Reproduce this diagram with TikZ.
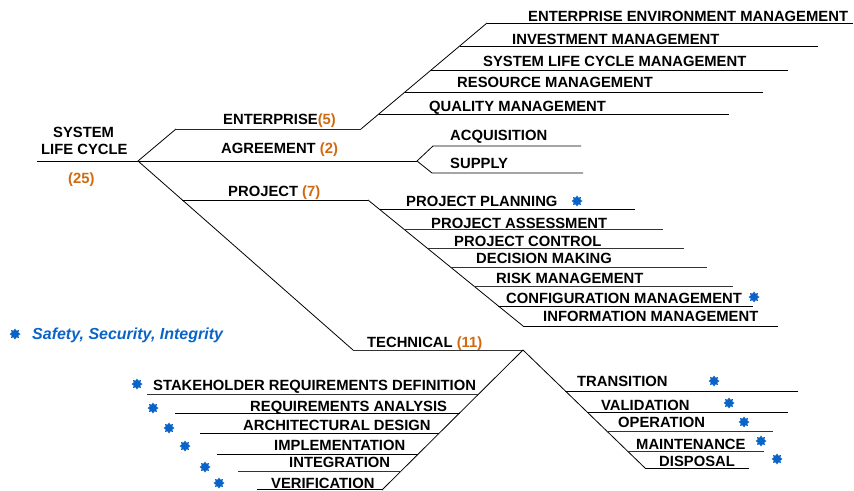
\documentclass[tikz,border=0pt]{standalone}
\usepackage{fontspec}
\setmainfont{Liberation Sans}
\usetikzlibrary{shapes.geometric}
\definecolor{numor}{HTML}{D06A10}
\definecolor{starblue}{HTML}{0A64C8}
\definecolor{navy}{HTML}{1A1A80}
\tikzset{
  ln/.style={line width=0.8pt, black},
  gln/.style={line width=0.8pt, black!80},
  lab/.style={anchor=base west, inner sep=0pt, font=\fontsize{14.8}{17}\selectfont\bfseries},
  astar/.style={star, star points=8, star point ratio=1.5, fill=starblue, draw=none, inner sep=0pt, minimum size=11pt},
}
\begin{document}
\begin{tikzpicture}[x=1pt,y=-1pt]
\useasboundingbox (0,0) rectangle (854,490);
% ---------- root ----------
\coordinate (L0) at (37,161);
\coordinate (V) at (138,161);
\node[lab] (sys1) at (53,137) {SYSTEM};
\node[lab] (sys2) at (41,154) {LIFE CYCLE};
\node[lab, text=numor] (sys3) at (68,183) {(25)};
\draw[ln] (L0) -- (V);
% ---------- enterprise ----------
\coordinate (E1) at (176,129);
\coordinate (E2) at (361,129);
\coordinate (ET) at (487,23);
\draw[ln] (V) -- (E1);
\draw[line width=0.8pt, navy] (E1) -- (E2);
\draw[ln] (E2) -- (ET);
\node[lab] (ent) at (223,124) {ENTERPRISE\textcolor{numor}{(5)}};
\coordinate (q0) at (378.8,114); \coordinate (q1) at (729,114);
\coordinate (r0) at (405.0,92);  \coordinate (r1) at (763,92);
\coordinate (s0) at (431.1,70);  \coordinate (s1) at (788,70);
\coordinate (i0) at (459.7,46);  \coordinate (i1) at (818,46);
\coordinate (e1) at (853,23);
\draw[ln] (q0) -- (q1);
\draw[ln] (r0) -- (r1);
\draw[ln] (s0) -- (s1);
\draw[ln] (i0) -- (i1);
\draw[ln] (ET) -- (e1);
\node[lab] (eem) at (528,21) {ENTERPRISE ENVIRONMENT MANAGEMENT};
\node[lab] (inv) at (512,44) {INVESTMENT MANAGEMENT};
\node[lab] (slcm) at (483,66) {SYSTEM LIFE CYCLE MANAGEMENT};
\node[lab] (res) at (457,87) {RESOURCE MANAGEMENT};
\node[lab] (qual) at (429,111) {QUALITY MANAGEMENT};
% ---------- agreement ----------
\coordinate (A1) at (417,161);
\coordinate (ac0) at (433,146); \coordinate (ac1) at (581,146);
\coordinate (su0) at (432,173); \coordinate (su1) at (583,173);
\draw[ln] (V) -- (A1);
\draw[ln] (A1) -- (ac0) -- (ac1);
\draw[ln] (A1) -- (su0) -- (su1);
\node[lab] (agr) at (221,153) {AGREEMENT \textcolor{numor}{(2)}};
\node[lab] (acq) at (450,140) {ACQUISITION};
\node[lab] (sup) at (450,168) {SUPPLY};
% ---------- project ----------
\coordinate (T0) at (353,350);
\coordinate (P0) at (182.4,200);
\coordinate (P1) at (368,200);
\coordinate (PE) at (523,326);
\draw[ln] (V) -- (T0);
\draw[ln] (P0) -- (P1);
\draw[ln] (P1) -- (PE);
\node[lab] (proj) at (228,196.5) {PROJECT \textcolor{numor}{(7)}};
\coordinate (pp0) at (379.7,209.5); \coordinate (pp1) at (635,209.5);
\coordinate (pa0) at (404.3,229.5); \coordinate (pa1) at (663,229.5);
\coordinate (pc0) at (427.6,248.5); \coordinate (pc1) at (684,248.5);
\coordinate (dm0) at (450.7,267.5); \coordinate (dm1) at (707,267.5);
\coordinate (rm0) at (474.1,286.5); \coordinate (rm1) at (733,286.5);
\coordinate (cm0) at (498.4,306);   \coordinate (cm1) at (753,306);
\coordinate (im1) at (778,326);
\draw[ln] (pp0) -- (pp1);
\draw[gln] (pa0) -- (pa1);
\draw[gln] (pc0) -- (pc1);
\draw[gln] (dm0) -- (dm1);
\draw[gln] (rm0) -- (rm1);
\draw[ln] (cm0) -- (cm1);
\draw[ln] (PE) -- (im1);
\node[lab] (ppl) at (406,206) {PROJECT PLANNING};
\node[lab] (pas) at (431,228.7) {PROJECT ASSESSMENT};
\node[lab] (pco) at (454,246) {PROJECT CONTROL};
\node[lab] (dma) at (476,263) {DECISION MAKING};
\node[lab] (rma) at (496,283) {RISK MANAGEMENT};
\node[lab] (cma) at (506,303) {CONFIGURATION MANAGEMENT};
\node[lab] (ima) at (543,321) {INFORMATION MANAGEMENT};
\node[astar] (st1) at (577,201) {};
\node[astar] (st2) at (754,297) {};
% ---------- technical ----------
\coordinate (T1) at (523,350);
\coordinate (TL) at (382,490);
\coordinate (TR) at (645,468);
\draw[gln] (T0) -- (T1);
\draw[ln] (T1) -- (TL);
\draw[ln] (T1) -- (TR);
\node[lab] (tec) at (367,347.7) {TECHNICAL \textcolor{numor}{(11)}};
% left
\coordinate (srd0) at (147,394);   \coordinate (srd1) at (478.7,394);
\coordinate (ra0) at (175,413);    \coordinate (ra1) at (459.5,413);
\coordinate (ad0) at (200,433.5);  \coordinate (ad1) at (438.9,433.5);
\coordinate (imp0) at (217,454);   \coordinate (imp1) at (418.3,454);
\coordinate (int0) at (238,471);   \coordinate (int1) at (401.1,471);
\coordinate (ver0) at (257,489.2); \coordinate (ver1) at (382.8,489.2);
\draw[gln] (srd0) -- (srd1);
\draw[ln] (ra0) -- (ra1);
\draw[ln] (ad0) -- (ad1);
\draw[ln] (imp0) -- (imp1);
\draw[gln] (int0) -- (int1);
\draw[ln] (ver0) -- (ver1);
\node[lab] (srd) at (153,390.7) {STAKEHOLDER REQUIREMENTS DEFINITION};
\node[lab] (ra) at (250,411.7) {REQUIREMENTS ANALYSIS};
\node[lab] (ad) at (243,430.7) {ARCHITECTURAL DESIGN};
\node[lab] (imp) at (274,450) {IMPLEMENTATION};
\node[lab] (int) at (289,467.7) {INTEGRATION};
\node[lab] (ver) at (271,488) {VERIFICATION};
\node[astar] (st3) at (137,384) {};
\node[astar] (st4) at (153,408) {};
\node[astar] (st5) at (169,428) {};
\node[astar] (st6) at (185,446) {};
\node[astar] (st7) at (205,467) {};
\node[astar] (st8) at (219,483) {};
% right
\coordinate (tr0) at (565.4,391); \coordinate (tr1) at (798,391);
\coordinate (va0) at (587.1,412); \coordinate (va1) at (788,412);
\coordinate (op0) at (606.7,431); \coordinate (op1) at (773,431);
\coordinate (ma0) at (627.4,451); \coordinate (ma1) at (764,451);
\coordinate (di1) at (749,468);
\draw[ln] (tr0) -- (tr1);
\draw[ln] (va0) -- (va1);
\draw[gln] (op0) -- (op1);
\draw[gln] (ma0) -- (ma1);
\draw[ln] (TR) -- (di1);
\node[lab] (tra) at (577,386) {TRANSITION};
\node[lab] (val) at (601,410) {VALIDATION};
\node[lab] (ope) at (618,427.7) {OPERATION};
\node[lab] (mai) at (636,449.3) {MAINTENANCE};
\node[lab] (dis) at (659,466.7) {DISPOSAL};
\node[astar] (st9) at (714,381) {};
\node[astar] (st10) at (729,403) {};
\node[astar] (st11) at (744,422) {};
\node[astar] (st12) at (761,441) {};
\node[astar] (st13) at (777,459) {};
% ---------- legend ----------
\node[astar] (lst) at (15,334) {};
\node[lab, text=starblue, font=\fontsize{16}{18}\selectfont\bfseries\itshape] (leg) at (32,339) {Safety, Security, Integrity};
\end{tikzpicture}
\end{document}
